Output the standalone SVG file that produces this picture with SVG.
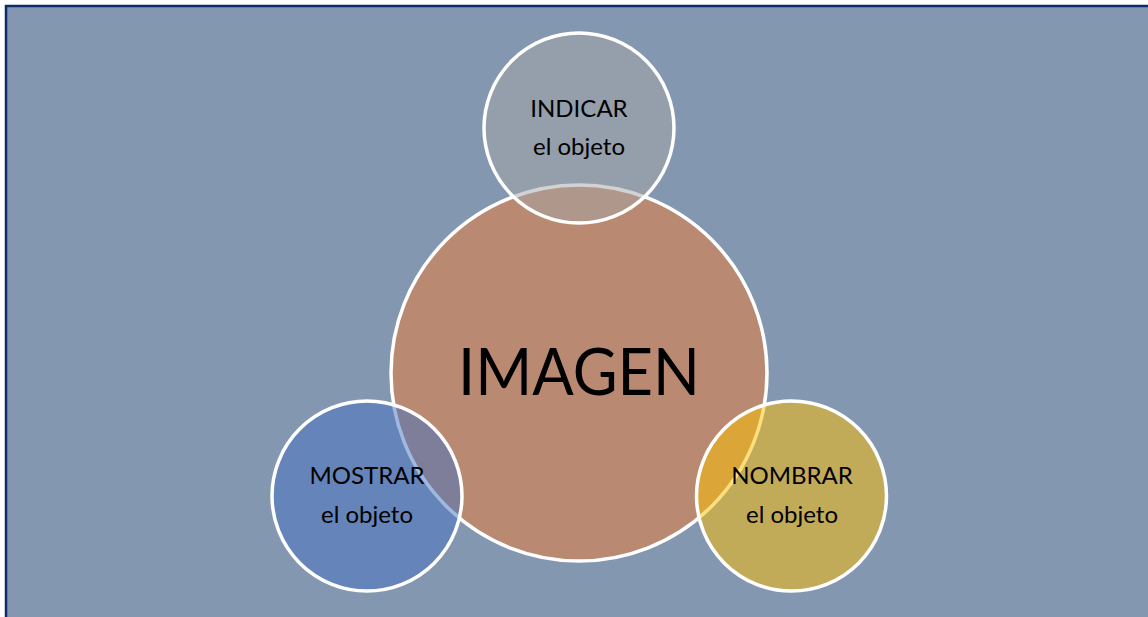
<svg xmlns="http://www.w3.org/2000/svg" width="1148" height="617" viewBox="0 0 1148 617">
<style>
.bg{fill:#8497B0;stroke:#0D2A6B;stroke-width:2.5}
.c{stroke:#FFFFFF;stroke-width:3.5}
.t{font-family:Lato,"Open Sans","Liberation Sans",sans-serif;fill:#000000;text-anchor:middle}
.s{font-size:24px}
.big{font-size:66px}
</style>
<rect width="1148" height="617" fill="#FFFFFF"/>
<rect class="bg" x="6" y="6" width="1160" height="630"/>
<g id="imagen">
<circle class="c" cx="579" cy="373" r="188" fill="#ED7D31" fill-opacity="0.5"/>
<text class="t big" x="579" y="395" textLength="242" lengthAdjust="spacingAndGlyphs">IMAGEN</text>
</g>
<g id="indicar">
<circle class="c" cx="579" cy="128" r="95" fill="#A5A5A5" fill-opacity="0.5"/>
<text class="t s" x="579" y="117">INDICAR</text>
<text class="t s" x="579" y="155">el objeto</text>
</g>
<g id="mostrar">
<circle class="c" cx="367" cy="496" r="95" fill="#4472C4" fill-opacity="0.5"/>
<text class="t s" x="367" y="484">MOSTRAR</text>
<text class="t s" x="367" y="523">el objeto</text>
</g>
<g id="nombrar">
<circle class="c" cx="791.5" cy="496" r="95" fill="#FFC000" fill-opacity="0.5"/>
<text class="t s" x="792" y="484">NOMBRAR</text>
<text class="t s" x="792" y="523">el objeto</text>
</g>
<g id="connectors"/>
</svg>
